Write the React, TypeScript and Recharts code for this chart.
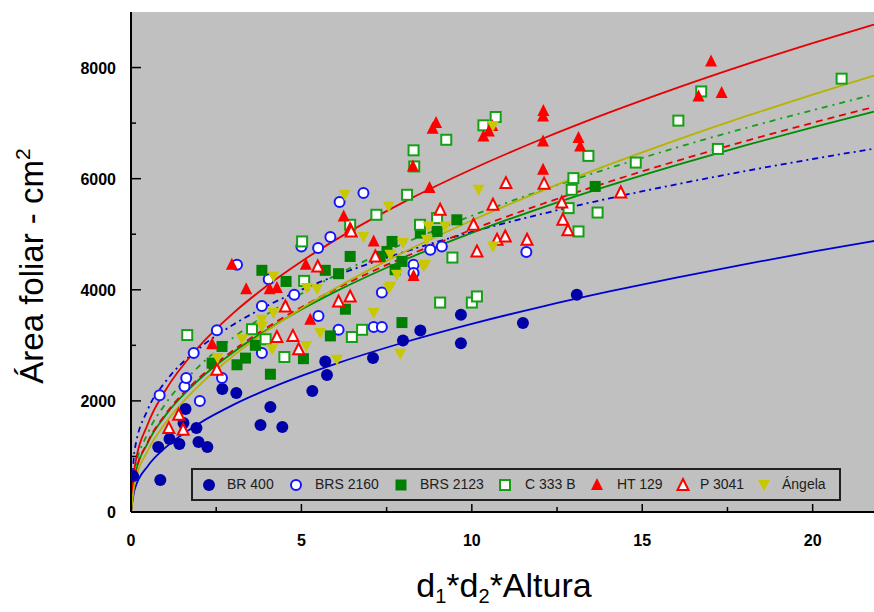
import { CartesianGrid, ComposedChart, Line, Scatter, XAxis, YAxis } from "recharts";

const W = 874;
const H = 612;
const PLOT_LEFT = 131;
const PLOT_BOTTOM = 512;
const FONT = '"Liberation Sans", Arial, sans-serif';

const X_TICKS = [0, 2.5, 5, 7.5, 10, 12.5, 15, 17.5, 20];
const Y_TICKS = [0, 1000, 2000, 3000, 4000, 5000, 6000, 7000, 8000];

// fitted curves at these x positions
const CURVE_X = [0, 0.1, 0.5, 1, 2, 3, 4, 5, 6, 8, 10, 12, 14, 16, 18, 20, 21.8];
const BR400_FIT = [0, 392, 834, 1153, 1595, 1928, 2206, 2449, 2667, 3051, 3387, 3689, 3965, 4220, 4459, 4685, 4878];
const BRS2160_FIT = [0, 1083, 1853, 2336, 2945, 3372, 3712, 3999, 4250, 4678, 5041, 5357, 5641, 5897, 6134, 6354, 6539];
const BRS2123_FIT = [0, 596, 1255, 1730, 2385, 2877, 3287, 3645, 3966, 4531, 5024, 5467, 5871, 6245, 6596, 6925, 7207];
const C333B_FIT = [0, 703, 1427, 1936, 2626, 3139, 3563, 3930, 4259, 4833, 5332, 5778, 6183, 6558, 6906, 7233, 7514];
const HT129_FIT = [0, 770, 1593, 2179, 2981, 3580, 4077, 4510, 4898, 5578, 6170, 6700, 7183, 7630, 8048, 8440, 8775];
const P3041_FIT = [0, 603, 1270, 1750, 2413, 2910, 3325, 3687, 4012, 4583, 5082, 5530, 5939, 6317, 6672, 7005, 7290];
const ANGELA_FIT = [0, 483, 1112, 1592, 2280, 2813, 3265, 3664, 4028, 4675, 5247, 5767, 6247, 6694, 7116, 7514, 7857];

// observations [x, y]
const BR400 = [
  [0.06, 650], [0.86, 577], [0.8, 1171], [1.13, 1315], [1.42, 1225], [1.54, 1604], [1.6, 1856],
  [1.92, 1513], [1.98, 1261], [2.24, 1171], [2.68, 2216], [3.09, 2144], [3.8, 1568], [4.09, 1892],
  [4.44, 1532], [5.32, 2180], [5.7, 2708], [5.75, 2468], [7.1, 2772], [7.98, 3087], [8.49, 3268],
  [9.68, 3550], [9.68, 3039], [11.5, 3400], [13.08, 3910],
];
const BRS2160 = [
  [0.84, 2100], [1.57, 2260], [1.62, 2410], [1.84, 2860], [2.02, 2000], [2.52, 3270], [2.67, 2410],
  [3.11, 4450], [3.84, 3710], [3.84, 2860], [4.04, 4190], [4.79, 3910], [5.0, 4780], [5.49, 4750],
  [5.5, 3530], [5.85, 4950], [6.09, 3280], [6.12, 5580], [6.82, 5740], [7.12, 3330], [7.36, 3330],
  [7.36, 3950], [8.29, 4450], [8.29, 4300], [8.78, 4720], [9.12, 4780], [11.6, 4680],
];
const BRS2123 = [
  [2.38, 2680], [2.67, 2980], [3.11, 2650], [3.36, 2770], [3.65, 3000], [3.84, 4350], [4.09, 2480],
  [4.55, 4150], [5.06, 2760], [5.7, 4350], [5.85, 3170], [6.09, 4290], [6.29, 3650], [6.43, 4600],
  [7.31, 4600], [7.51, 4690], [7.66, 4870], [7.75, 4360], [7.95, 4510], [7.95, 3410], [8.49, 5020],
  [8.98, 5050], [9.56, 5260], [13.62, 5860],
];
const C333B = [
  [1.65, 3185], [3.55, 3290], [3.95, 3110], [4.5, 2790], [5.02, 4870], [5.08, 4160], [6.43, 5170],
  [6.48, 3150], [6.78, 3280], [7.2, 5350], [8.1, 5710], [8.29, 6510], [8.31, 6220], [8.48, 5170],
  [8.98, 5290], [9.07, 3770], [9.25, 6700], [9.43, 4580], [10.0, 3770], [10.15, 3880], [10.34, 6960],
  [10.7, 7110], [12.84, 5470], [12.93, 5800], [12.98, 6010], [13.13, 5050], [13.42, 6410],
  [13.69, 5390], [14.81, 6290], [16.06, 7045], [16.73, 7570], [17.22, 6535], [20.85, 7800],
];
const HT129 = [
  [2.38, 3020], [2.96, 4450], [3.38, 4010], [4.07, 4010], [4.28, 4030], [5.13, 4450], [5.26, 3460],
  [6.24, 5320], [6.43, 5110], [7.12, 4870], [8.27, 6220], [8.29, 4250], [8.76, 5830], [8.85, 6900],
  [8.95, 7000], [10.34, 6760], [10.5, 6850], [10.6, 6950], [12.09, 7120], [12.1, 7220], [12.09, 6670],
  [12.09, 6160], [13.13, 6730], [13.18, 6580], [16.65, 7480], [17.02, 8110], [17.33, 7540],
];
const P3041 = [
  [1.11, 1510], [1.4, 1750], [1.53, 1480], [2.52, 2560], [4.28, 3150], [4.53, 3700], [4.75, 3170],
  [4.92, 2930], [5.48, 4420], [6.09, 3790], [6.43, 3880], [6.46, 5050], [7.17, 4600], [9.07, 5440],
  [10.05, 5170], [10.15, 4690], [10.62, 5530], [10.74, 4900], [10.98, 4960], [11.0, 5920],
  [11.62, 4900], [12.12, 5910], [12.64, 5570], [12.67, 5260], [12.82, 5070], [14.37, 5750],
];
const ANGELA = [
  [2.54, 2770], [3.26, 3110], [3.84, 3340], [3.84, 3460], [4.14, 2930], [4.18, 3580], [4.18, 4240],
  [5.14, 2990], [5.16, 4030], [5.46, 4010], [5.55, 3220], [6.04, 2740], [6.27, 5710], [6.82, 4950],
  [7.12, 3580], [7.56, 5500], [7.56, 4030], [7.61, 4630], [7.61, 4060], [7.8, 4270], [7.9, 2850],
  [7.98, 4840], [8.58, 4430], [8.63, 4450], [8.68, 4900], [8.73, 5140], [9.22, 5140], [10.2, 5800],
  [10.62, 4780], [10.62, 6950],
];

const pts = (arr: number[][]) => arr.map(([x, y]) => ({ x, y }));
const curve = (fit: number[]) => CURVE_X.map((x, i) => ({ x, y: fit[i] }));

const FilledCircle = ({ cx, cy }: any) => <circle cx={cx} cy={cy} r={6} fill="#0000a8" />;
const OpenCircle = ({ cx, cy }: any) => (
  <circle cx={cx} cy={cy} r={5} fill="#fff" stroke="#1414ff" strokeWidth={2} />
);
const FilledSquare = ({ cx, cy }: any) => (
  <rect x={cx - 5.5} y={cy - 5.5} width={11} height={11} fill="#008000" />
);
const OpenSquare = ({ cx, cy }: any) => (
  <rect x={cx - 5} y={cy - 5} width={10} height={10} fill="#fff" stroke="#14a014" strokeWidth={2} />
);
const FilledTri = ({ cx, cy }: any) => (
  <polygon points={`${cx},${cy - 7} ${cx + 6},${cy + 5} ${cx - 6},${cy + 5}`} fill="#ff0000" />
);
const OpenTri = ({ cx, cy }: any) => (
  <polygon
    points={`${cx},${cy - 6} ${cx + 5.5},${cy + 5} ${cx - 5.5},${cy + 5}`}
    fill="#fff"
    stroke="#ff0000"
    strokeWidth={2}
  />
);
const DownTri = ({ cx, cy }: any) => (
  <polygon points={`${cx - 6},${cy - 5} ${cx + 6},${cy - 5} ${cx},${cy + 6}`} fill="#c8c800" />
);

const SERIES = [
  { name: "BR 400", data: BR400, shape: FilledCircle },
  { name: "BRS 2160", data: BRS2160, shape: OpenCircle },
  { name: "BRS 2123", data: BRS2123, shape: FilledSquare },
  { name: "C 333 B", data: C333B, shape: OpenSquare },
  { name: "HT 129", data: HT129, shape: FilledTri },
  { name: "P 3041", data: P3041, shape: OpenTri },
  { name: "Ángela", data: ANGELA, shape: DownTri },
];

const FITS = [
  { fit: BR400_FIT, color: "#0000d0", dash: undefined },
  { fit: BRS2160_FIT, color: "#0000d0", dash: "6 4 2 4" },
  { fit: BRS2123_FIT, color: "#008c00", dash: undefined },
  { fit: C333B_FIT, color: "#10a010", dash: "6 5 2 5" },
  { fit: HT129_FIT, color: "#e80000", dash: undefined },
  { fit: P3041_FIT, color: "#e80000", dash: "7 5" },
  { fit: ANGELA_FIT, color: "#b4b400", dash: undefined },
];

const XTick = ({ x, payload }: any) => {
  const v = payload.value;
  const major = v % 5 === 0;
  return (
    <g>
      <line x1={x} x2={x} y1={PLOT_BOTTOM} y2={PLOT_BOTTOM - (major ? 8 : 5)} stroke="#000" strokeWidth={1.5} />
      {major && (
        <text x={x} y={546} textAnchor="middle" fontFamily={FONT} fontWeight="bold" fontSize={16} fill="#000">
          {v}
        </text>
      )}
    </g>
  );
};

const YTick = ({ y, payload }: any) => {
  const v = payload.value;
  const major = v % 2000 === 0;
  return (
    <g>
      <line x1={PLOT_LEFT} x2={PLOT_LEFT + (major ? 10 : 5)} y1={y} y2={y} stroke="#000" strokeWidth={1.5} />
      {major && (
        <text x={116} y={y + 6} textAnchor="end" fontFamily={FONT} fontWeight="bold" fontSize={16} fill="#000">
          {v}
        </text>
      )}
    </g>
  );
};

const XLabel = () => (
  <text x={504} y={597} textAnchor="middle" fontFamily={FONT} fontSize={34} fill="#000">
    d<tspan fontSize={20} dy={6}>1</tspan>
    <tspan dy={-6}>*d</tspan>
    <tspan fontSize={20} dy={6}>2</tspan>
    <tspan dy={-6}>*Altura</tspan>
  </text>
);

const YLabel = () => (
  <text transform="translate(43,266) rotate(-90)" textAnchor="middle" fontFamily={FONT} fontSize={33} fill="#000">
    Área foliar - cm<tspan fontSize={21} dy={-13}>2</tspan>
  </text>
);

const LEGEND_POS = [
  { m: 16, t: 34 },
  { m: 103, t: 122 },
  { m: 208, t: 227 },
  { m: 312, t: 332 },
  { m: 404, t: 424 },
  { m: 490, t: 507 },
  { m: 571, t: 589 },
];

export default function App() {
  return (
    <div style={{ position: "absolute", left: 0, top: 0, width: W, height: H, background: "#fff" }}>
      <ComposedChart width={W} height={H} margin={{ top: 12, right: 0, bottom: 0, left: 0 }}>
        <CartesianGrid horizontal={false} vertical={false} fill="#c0c0c0" />
        <XAxis
          type="number"
          dataKey="x"
          domain={[0, 21.8]}
          allowDataOverflow
          ticks={X_TICKS}
          interval={0}
          height={100}
          tickLine={false}
          axisLine={{ stroke: "#000", strokeWidth: 2 }}
          tick={<XTick />}
          label={<XLabel />}
        />
        <YAxis
          type="number"
          dataKey="y"
          domain={[0, 9000]}
          allowDataOverflow
          ticks={Y_TICKS}
          interval={0}
          width={131}
          tickLine={false}
          axisLine={{ stroke: "#000", strokeWidth: 2 }}
          tick={<YTick />}
          label={<YLabel />}
        />
        {SERIES.map((s) => (
          <Scatter
            key={s.name}
            name={s.name}
            data={pts(s.data)}
            dataKey="y"
            shape={(p: any) => <s.shape {...p} />}
            isAnimationActive={false}
          />
        ))}
        {FITS.map((f, i) => (
          <Line
            key={i}
            data={curve(f.fit)}
            dataKey="y"
            type="monotone"
            dot={false}
            activeDot={false}
            stroke={f.color}
            strokeWidth={1.8}
            strokeDasharray={f.dash}
            isAnimationActive={false}
          />
        ))}
      </ComposedChart>
      <div
        style={{
          position: "absolute",
          left: 191,
          top: 468,
          width: 650,
          height: 33,
          border: "2px solid #202020",
          boxSizing: "border-box",
          fontFamily: FONT,
          fontSize: 14,
          color: "#202020",
        }}
      >
        {SERIES.map((s, i) => (
          <div key={s.name}>
            <svg
              width={16}
              height={16}
              style={{ position: "absolute", left: LEGEND_POS[i].m - 8, top: 7 }}
            >
              <s.shape cx={8} cy={8} />
            </svg>
            <span style={{ position: "absolute", left: LEGEND_POS[i].t, top: 6, whiteSpace: "nowrap" }}>
              {s.name}
            </span>
          </div>
        ))}
      </div>
    </div>
  );
}
